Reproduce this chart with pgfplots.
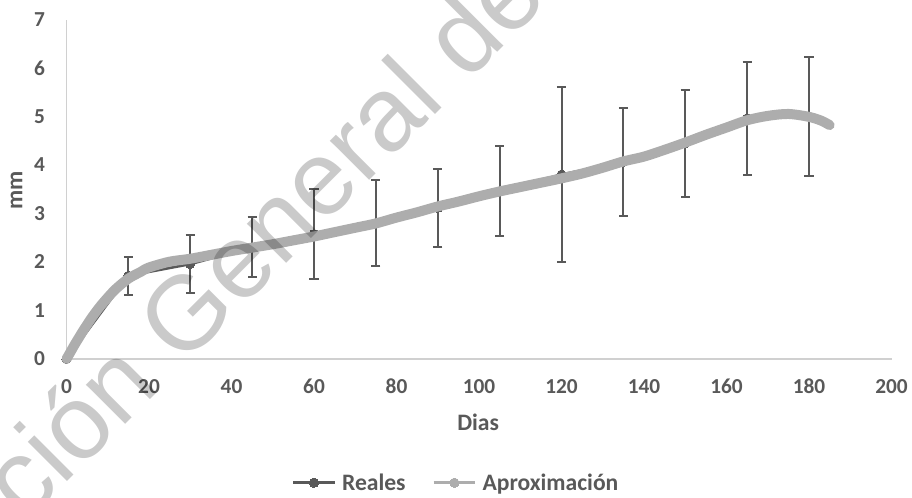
\documentclass[border=0pt]{standalone}
\usepackage{pgfplots}
\pgfplotsset{compat=1.18}
\usepackage{fontspec}
\setmainfont{Carlito}
\newfontfamily\wmfont{Liberation Sans}
\definecolor{dk}{HTML}{595959}
\definecolor{lt}{HTML}{ADADAD}
\definecolor{ax}{HTML}{D0D0D0}
\definecolor{wm}{HTML}{CACACA}
\begin{document}
\begin{tikzpicture}
\useasboundingbox (-49.875pt,-103.5pt) rectangle (634.125pt,269.25pt);
\begin{axis}[
  at={(0pt,0pt)}, anchor=south west,
  scale only axis, width=618.75pt, height=254.25pt,
  xmin=0, xmax=200, ymin=0, ymax=7,
  clip=false, clip marker paths=true,
  axis lines=left,
  axis line style={-, draw=ax, line width=1pt},
  xtick={0,20,...,200}, ytick={0,1,...,7},
  major tick length=0pt,
  /pgf/number format/assume math mode=true,
  ticklabel style={font=\fontsize{16}{19}\selectfont\bfseries, text=dk},
  xticklabel style={anchor=base, inner sep=0pt, yshift=-25.7pt},
  yticklabel style={anchor=base east, inner sep=0pt, xshift=-16pt, yshift=-5pt},
  xlabel={Dias}, ylabel={mm},
  label style={font=\fontsize{17.7}{21}\selectfont\bfseries, text=dk},
  xlabel style={at={(rel axis cs:0.499,-0.186)}, anchor=center},
  ylabel style={at={(rel axis cs:-0.0606,0.4985)}, anchor=center},
  legend style={at={(rel axis cs:0.471,-0.365)}, anchor=center, draw=none, fill=none,
    legend columns=-1, inner sep=0pt,
    font=\fontsize{17.7}{21}\selectfont\bfseries, text=dk,
    nodes={inner sep=0pt},
    /tikz/every even column/.append style={column sep=20pt},
    /tikz/every odd column/.append style={column sep=4.5pt}},
  legend image code/.code={\draw[mark repeat=2,mark phase=2,#1] plot coordinates {(0pt,0pt)(15.6pt,0pt)(31.2pt,0pt)};},
]
% legend images
\addlegendimage{color=dk, line width=2pt, mark=*, mark size=3.5pt, mark options={solid, fill=dk, draw=dk, line width=0pt}}
\addlegendentry{Reales}
\addlegendimage{color=lt, line width=2pt, mark=*, mark size=3.5pt, mark options={solid, fill=lt, draw=lt, line width=0pt}}
\addlegendentry{Aproximación}
% Reales
\addplot[color=dk, line width=2pt, mark=*, mark size=3.4pt, forget plot,
  mark options={solid, fill=dk, draw=dk, line width=0pt},
  error bars/.cd, y dir=both, y explicit,
  error bar style={line width=1.5pt, dk},
  error mark options={rotate=90, mark size=3.4pt, line width=1.5pt, dk},
  ] coordinates {
  (0,0)
  (15,1.72) +- (0,0.39)
  (30,1.96) +- (0,0.60)
  (45,2.31) +- (0,0.62)
  (60,2.58) +- (0,0.93)
  (75,2.81) +- (0,0.89)
  (90,3.12) +- (0,0.80)
  (105,3.47) +- (0,0.93)
  (120,3.81) +- (0,1.81)
  (135,4.07) +- (0,1.12)
  (150,4.45) +- (0,1.10)
  (165,4.97) +- (0,1.17)
  (180,5.01) +- (0,1.23)
};
% Aproximacion
\addplot[color=lt, line width=7.5pt, line cap=round, line join=round, smooth, forget plot] coordinates {
  (0,0) (1,0.15) (2,0.30) (3,0.44) (4,0.58) (5,0.71) (6,0.84) (8,1.07) (10,1.27)
  (12,1.45) (15,1.66) (18,1.80) (20,1.89) (25,2.01) (30,2.07) (35,2.15) (40,2.23)
  (45,2.30) (50,2.37) (55,2.45) (60,2.53) (65,2.62) (70,2.71) (75,2.80) (80,2.92)
  (85,3.03) (90,3.15) (95,3.25) (100,3.36) (105,3.46) (110,3.55) (115,3.64)
  (120,3.73) (125,3.83) (130,3.95) (135,4.08) (140,4.18) (145,4.32) (150,4.47)
  (155,4.63) (160,4.78) (165,4.93) (170,5.02) (175,5.06) (180,5.00) (183,4.92) (185,4.83)
};
\end{axis}
\begin{scope}[blend mode=multiply]
\node[font=\wmfont\fontsize{78.75}{90}\selectfont, text=wm, anchor=base west, rotate=45, inner sep=0pt] at (87pt,-6.2pt) {\llap{Dirección\ }General de Bibliotecas UAQ};
\end{scope}
\end{tikzpicture}
\end{document}
